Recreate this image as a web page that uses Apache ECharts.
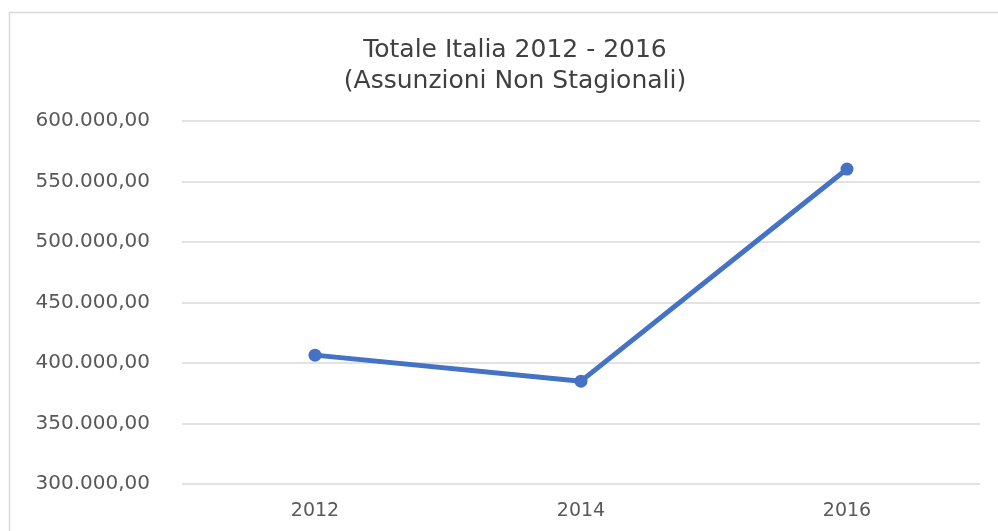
<!DOCTYPE html>
<html>
<head>
<meta charset="utf-8">
<script src="https://cdn.jsdelivr.net/npm/echarts@6/dist/echarts.min.js"></script>
<style>
  html, body { margin: 0; padding: 0; background: #fff; }
  #chart { width: 998px; height: 531px; }
</style>
</head>
<body>
<div id="chart"></div>
<script>
const years = ['2012', '2014', '2016']
const assunzioni = [406500, 385000, 560300]
const titleLines = ['Totale Italia 2012 - 2016', '(Assunzioni Non Stagionali)']

// formato italiano: 600.000,00
function formatIt(v) {
  const parts = v.toFixed(2).split('.')
  return parts[0].replace(/\B(?=(\d{3})+(?!\d))/g, '.') + ',' + parts[1]
}

const chart = echarts.init(document.getElementById('chart'))

chart.setOption({
  animation: false,
  textStyle: { fontFamily: 'DejaVu Sans' },
  title: {
    text: titleLines.join('\n'),
    left: 510,
    textAlign: 'center',
    top: 30,
    textStyle: {
      fontFamily: 'DejaVu Sans',
      fontSize: 25,
      fontWeight: 'normal',
      color: '#404040',
      lineHeight: 31
    }
  },
  graphic: [{
    type: 'rect',
    shape: { x: 9.5, y: 12.5, width: 1000, height: 600 },
    style: { fill: 'none', stroke: '#d9d9d9', lineWidth: 1.5 },
    silent: true
  }],
  grid: { left: 182, right: 18, top: 121, bottom: 47 },
  xAxis: {
    type: 'category',
    data: years,
    boundaryGap: true,
    axisLine: { show: false },
    axisTick: { show: false },
    axisLabel: { color: '#595959', fontSize: 19, margin: 18 }
  },
  yAxis: {
    type: 'value',
    min: 300000,
    max: 600000,
    interval: 50000,
    axisLine: { show: false },
    axisTick: { show: false },
    axisLabel: {
      color: '#595959',
      fontSize: 20,
      margin: 32,
      formatter: formatIt
    },
    splitLine: { lineStyle: { color: '#d9d9d9', width: 1.5 } }
  },
  series: [{
    type: 'line',
    data: assunzioni,
    symbol: 'circle',
    symbolSize: 13,
    itemStyle: { color: '#4472c4' },
    lineStyle: { color: '#4472c4', width: 5 }
  }]
})
</script>
</body>
</html>
